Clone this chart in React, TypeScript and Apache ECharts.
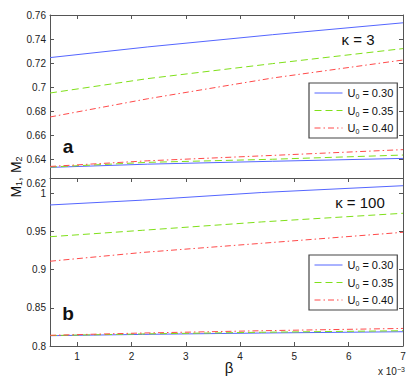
import React, { useEffect, useRef } from "react";
import * as echarts from "echarts";

// beta (x 10^-3) sample positions
const betaTop = [0.5, 2.3, 4.6, 7];
const betaBot = [0.5, 2.2, 4.4, 7];

// kappa = 3 panel (a)
const a_U030_M1 = [0.7245, 0.7334, 0.7436, 0.7535];
const a_U035_M1 = [0.695, 0.707, 0.7195, 0.732];
const a_U040_M1 = [0.675, 0.6902, 0.7075, 0.7225];
const a_U030_M2 = [0.633, 0.6357, 0.6381, 0.6405];
const a_U035_M2 = [0.6333, 0.6372, 0.6398, 0.6433];
const a_U040_M2 = [0.6338, 0.6385, 0.643, 0.6478];

// kappa = 100 panel (b)
const b_U030_M1 = [0.9847, 0.991, 1.001, 1.0099];
const b_U035_M1 = [0.9431, 0.9515, 0.9625, 0.9738];
const b_U040_M1 = [0.911, 0.9225, 0.9345, 0.9489];
const b_U030_M2 = [0.8135, 0.8152, 0.817, 0.8187];
const b_U035_M2 = [0.8137, 0.8158, 0.818, 0.82];
const b_U040_M2 = [0.814, 0.817, 0.82, 0.823];

const legendNames = ["0.30", "0.35", "0.40"];
const xTicks = [1, 2, 3, 4, 5, 6, 7];
const yTicksTop = [0.62, 0.64, 0.66, 0.68, 0.7, 0.72, 0.74, 0.76];
const yTicksBot = [0.8, 0.85, 0.9, 0.95, 1];

const FONT = "Liberation Sans, Arial, sans-serif";
const AX = "#555";
const colors = ["#5566ff", "#7fe01a", "#ff4a4a"];
const types: any[] = ["solid", [7, 4], [6, 3, 1.5, 3]];

export default function App() {
  const ref = useRef<HTMLDivElement>(null);
  useEffect(() => {
    const chart = echarts.init(ref.current!, null, { renderer: "svg" });
    const fmt = (v: number) => String(+Number(v).toFixed(2));
    const xAxis = (gridIndex: number, position: string, line: boolean, ticks: boolean, labels: boolean) => ({
      type: "value",
      gridIndex,
      position,
      min: 0.5,
      max: 7,
      splitLine: { show: false },
      axisLine: { show: line, onZero: false, lineStyle: { color: AX, width: 1 } },
      axisTick: { show: ticks, inside: true, length: 4, customValues: xTicks, lineStyle: { color: AX } },
      axisLabel: {
        show: labels,
        customValues: xTicks,
        color: "#222",
        fontSize: 10,
        fontFamily: FONT,
        margin: 5,
      },
    });
    const yAxis = (gridIndex: number, position: string, min: number, max: number, ticks: number[], labelTicks: number[], labels: boolean) => ({
      type: "value",
      gridIndex,
      position,
      min,
      max,
      splitLine: { show: false },
      axisLine: { show: true, onZero: false, lineStyle: { color: AX, width: 1 } },
      axisTick: { show: true, inside: true, length: 4, customValues: ticks, lineStyle: { color: AX } },
      axisLabel: {
        show: labels,
        customValues: labelTicks,
        formatter: fmt,
        color: "#222",
        fontSize: 10,
        fontFamily: FONT,
        margin: 4,
      },
    });
    const mk = (name: string, idx: number, xs: number[], ys: number[], c: number) => ({
      type: "line",
      name,
      xAxisIndex: idx * 2,
      yAxisIndex: idx * 2,
      data: xs.map((x, i) => [x, ys[i]]),
      showSymbol: false,
      symbol: "none",
      lineStyle: { color: colors[c], width: 1, type: types[c] },
      itemStyle: { color: colors[c] },
    });
    const legend = (top: number) => ({
      data: legendNames,
      left: 309,
      top,
      orient: "vertical",
      itemWidth: 28,
      itemHeight: 14,
      itemGap: 3.5,
      padding: [3, 4, 3, 5],
      borderColor: "#444",
      borderWidth: 1.2,
      backgroundColor: "#fff",
      selectedMode: false,
      itemStyle: { opacity: 0 },
      lineStyle: { width: 1 },
      formatter: (n: string) => `U{sub|0} = ${n}`,
      textStyle: {
        fontSize: 11,
        fontFamily: FONT,
        color: "#111",
        lineHeight: 14,
        rich: {
          sub: { fontSize: 7, lineHeight: 7, verticalAlign: "bottom", padding: [4, 0, 0, 0] },
        },
      },
    });
    chart.setOption({
      animation: false,
      backgroundColor: "#fff",
      grid: [
        { left: 50, top: 15, width: 353, height: 168, show: false },
        { left: 50, top: 178, width: 353, height: 168, show: true, backgroundColor: "#fff", borderWidth: 0 },
      ],
      xAxis: [
        xAxis(0, "bottom", false, false, false),
        xAxis(0, "top", true, true, false),
        xAxis(1, "bottom", true, true, true),
        xAxis(1, "top", true, true, false),
      ],
      yAxis: [
        yAxis(0, "left", 0.62, 0.76, yTicksTop.slice(1), yTicksTop, true),
        yAxis(0, "right", 0.62, 0.76, yTicksTop.slice(1), yTicksTop, false),
        yAxis(1, "left", 0.8, 1.02, yTicksBot, yTicksBot, true),
        yAxis(1, "right", 0.8, 1.02, yTicksBot, yTicksBot, false),
      ],
      legend: [legend(83), legend(255)],
      series: [
        mk("0.30", 0, betaTop, a_U030_M1, 0),
        mk("0.35", 0, betaTop, a_U035_M1, 1),
        mk("0.40", 0, betaTop, a_U040_M1, 2),
        mk("0.30", 0, betaTop, a_U030_M2, 0),
        mk("0.35", 0, betaTop, a_U035_M2, 1),
        mk("0.40", 0, betaTop, a_U040_M2, 2),
        mk("0.30", 1, betaBot, b_U030_M1, 0),
        mk("0.35", 1, betaBot, b_U035_M1, 1),
        mk("0.40", 1, betaBot, b_U040_M1, 2),
        mk("0.30", 1, betaBot, b_U030_M2, 0),
        mk("0.35", 1, betaBot, b_U035_M2, 1),
        mk("0.40", 1, betaBot, b_U040_M2, 2),
      ],
      graphic: [
        {
          type: "text",
          x: 16,
          y: 177,
          rotation: Math.PI / 2,
          style: {
            text: "M{s|1}, M{s|2}",
            font: `14px ${FONT}`,
            fill: "#111",
            align: "center",
            verticalAlign: "middle",
            rich: { s: { fontSize: 9, lineHeight: 9, verticalAlign: "bottom", padding: [5, 0, 0, 0] } },
          },
        },
        { type: "text", x: 229, y: 367, style: { text: "β", font: `15px ${FONT}`, fill: "#111", align: "center", verticalAlign: "middle" } },
        {
          type: "text",
          x: 378,
          y: 371,
          style: {
            text: "x 10{sup|−3}",
            font: `10px ${FONT}`,
            fill: "#222",
            align: "left",
            verticalAlign: "middle",
            rich: { sup: { fontSize: 7, lineHeight: 7, verticalAlign: "top", padding: [0, 0, 6, 0] } },
          },
        },
        { type: "text", x: 358, y: 39, style: { text: "κ = 3", font: `15px ${FONT}`, fill: "#111", align: "center", verticalAlign: "middle" } },
        { type: "text", x: 360, y: 202, style: { text: "κ = 100", font: `15px ${FONT}`, fill: "#111", align: "center", verticalAlign: "middle" } },
        { type: "text", x: 68, y: 146, style: { text: "a", font: `bold 19px ${FONT}`, fill: "#111", align: "center", verticalAlign: "middle" } },
        { type: "text", x: 68, y: 313, style: { text: "b", font: `bold 19px ${FONT}`, fill: "#111", align: "center", verticalAlign: "middle" } },
      ],
    });
    return () => chart.dispose();
  }, []);
  return <div ref={ref} style={{ width: 415, height: 381, position: "absolute", left: 0, top: 0 }} />;
}
